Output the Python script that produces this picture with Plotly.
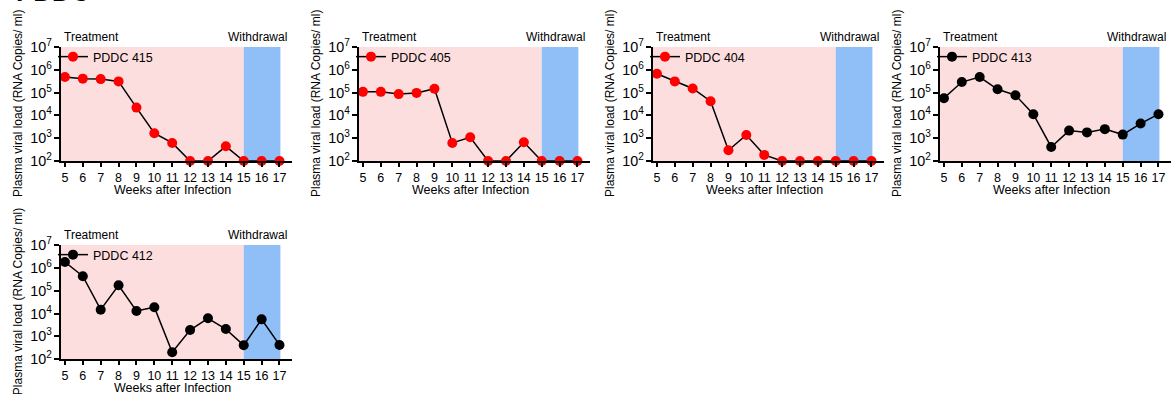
import plotly.graph_objects as go

weeks = list(range(5, 18))
week_ticks = [str(w) for w in weeks]

labels = ["PDDC 415", "PDDC 405", "PDDC 404", "PDDC 413", "PDDC 412"]
pddc415 = [4.8e5, 4.1e5, 3.9e5, 3.1e5, 2.2e4, 1.65e3, 620, 100, 100, 440, 100, 100, 100]
pddc405 = [1.08e5, 1.08e5, 8.6e4, 9.7e4, 1.48e5, 620, 1.1e3, 100, 100, 660, 100, 100, 100]
pddc404 = [6.7e5, 3.1e5, 1.52e5, 4.2e4, 295, 1.38e3, 185, 100, 100, 100, 100, 100, 100]
pddc413 = [5.7e4, 2.9e5, 4.8e5, 1.4e5, 7.7e4, 1.13e4, 414, 2.15e3, 1.8e3, 2.5e3, 1.44e3, 4.4e3, 1.13e4]
pddc412 = [1.8e6, 4.3e5, 1.48e4, 1.73e5, 1.3e4, 1.9e4, 204, 1.9e3, 6.2e3, 2.1e3, 410, 5.6e3, 425]
series = [pddc415, pddc405, pddc404, pddc413, pddc412]
marker_colors = ["#FF0000", "#FF0000", "#FF0000", "#000000", "#000000"]

treat_start, withdraw_start, withdraw_end = 4.78, 15, 17.05
x_range = [4.78, 17.7]

W, H = 1175, 394
FONT = "Arial, 'Liberation Sans', sans-serif"
# pixel layout of each panel: (left, top, bottom)
px_layout = [(61, 47, 161), (359, 47, 161), (653, 47, 161), (940, 47, 161), (61, 245, 359.3)]
panel_w = 231

fig = go.Figure()
layout = dict(
    template="none",
    width=W, height=H, margin=dict(l=0, r=0, t=0, b=0, autoexpand=False),
    paper_bgcolor="white", plot_bgcolor="rgba(0,0,0,0)",
    font=dict(family=FONT, size=12, color="black"),
    showlegend=True,
    shapes=[], annotations=[],
)

for i, (lab, vals, mc) in enumerate(zip(labels, series, marker_colors)):
    n = i + 1
    xa = "x" if n == 1 else f"x{n}"
    ya = "y" if n == 1 else f"y{n}"
    lg = "legend" if n == 1 else f"legend{n}"
    left, top, bottom = px_layout[i]
    fig.add_trace(go.Scatter(
        x=weeks, y=vals, name=lab, mode="lines+markers",
        xaxis=xa, yaxis=ya, legend=lg, cliponaxis=False, showlegend=True,
        line=dict(color="black", width=1.5),
        marker=dict(color=mc, size=10, line=dict(width=0)),
    ))
    layout["xaxis" if n == 1 else f"xaxis{n}"] = dict(
        domain=[left / W, (left + panel_w) / W], range=x_range, anchor=ya,
        automargin=False,
        tickmode="array", tickvals=weeks, ticktext=week_ticks,
        ticks="outside", ticklen=4, tickwidth=1.5, tickcolor="black",
        showline=True, linecolor="black", linewidth=1.5,
        showgrid=False, zeroline=False, tickfont=dict(size=12.5),
    )
    layout["yaxis" if n == 1 else f"yaxis{n}"] = dict(
        domain=[1 - bottom / H, 1 - top / H], type="log", range=[2, 7], dtick=1,
        automargin=False,
        exponentformat="power", showexponent="all", anchor=xa,
        ticks="outside", ticklen=5, tickwidth=1.5, tickcolor="black",
        showline=True, linecolor="black", linewidth=1.5,
        showgrid=False, zeroline=False, tickfont=dict(size=11.5),
    )
    layout[lg] = dict(
        x=(left - 8) / W, y=1 - (top + 10) / H, xanchor="left", yanchor="middle",
        bgcolor="rgba(0,0,0,0)", font=dict(size=12.5), itemwidth=30,
    )
    # shading
    layout["shapes"].append(dict(type="rect", xref=xa, yref=f"{ya} domain",
                                 x0=treat_start, x1=withdraw_start, y0=0, y1=1,
                                 fillcolor="#FDDEDF", line=dict(width=0), layer="below"))
    layout["shapes"].append(dict(type="rect", xref=xa, yref=f"{ya} domain",
                                 x0=withdraw_start, x1=withdraw_end, y0=0, y1=1,
                                 fillcolor="#90BEF7", line=dict(width=0), layer="below"))
    # texts
    layout["annotations"] += [
        dict(text="Treatment", xref=f"{xa} domain", yref=f"{ya} domain", x=0, y=1,
             xanchor="left", yanchor="middle", yshift=10, xshift=1, showarrow=False,
             font=dict(size=12)),
        dict(text="Withdrawal", xref=f"{xa} domain", yref=f"{ya} domain", x=1, y=1,
             xanchor="right", yanchor="middle", yshift=10, xshift=-3, showarrow=False,
             font=dict(size=12)),
        dict(text="Plasma viral load (RNA Copies/ ml)", xref=f"{xa} domain",
             yref=f"{ya} domain", x=0, y=0.5, xshift=-43, textangle=-90,
             xanchor="center", yanchor="middle", showarrow=False, font=dict(size=12)),
        dict(text="Weeks after Infection", xref=xa, yref=f"{ya} domain", x=11, y=0,
             yshift=-29, xanchor="center", yanchor="middle", showarrow=False,
             font=dict(size=12.5)),
    ]

layout["annotations"].append(dict(
    text="<b>PDDC</b>", xref="paper", yref="paper", x=14 / W, y=1, yshift=-9,
    xanchor="left", yanchor="bottom", showarrow=False, font=dict(size=26)))

fig.update_layout(**layout)
fig.write_html("out.html")
